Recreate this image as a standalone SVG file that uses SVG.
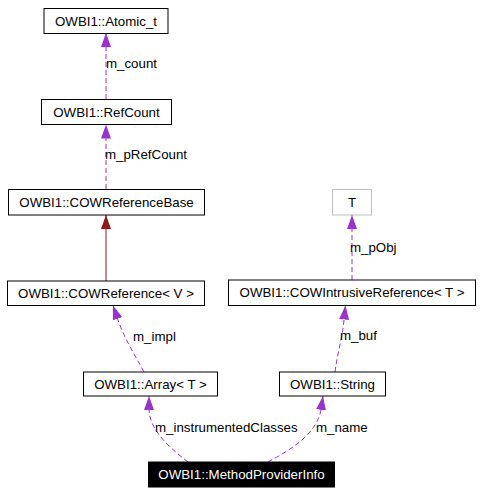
<svg xmlns="http://www.w3.org/2000/svg" width="480" height="493" viewBox="0 0 480 493">
<style>
text{font-family:"Liberation Sans",Arial,sans-serif;font-size:13.3px;fill:#000}
.n{text-anchor:middle}
rect{fill:#fff;stroke:#000;stroke-width:1}
.e{fill:none;stroke:#9a32cd;stroke-width:1;stroke-dasharray:5,3}
.i{fill:none;stroke:#8b1a1a;stroke-width:1}
</style>
<defs>
<marker id="ap" markerUnits="userSpaceOnUse" markerWidth="14" markerHeight="10" viewBox="0 0 14 10" refX="14" refY="5" orient="auto"><path d="M0,0L14,5L0,10z" fill="#9a32cd"/></marker>
<marker id="ar" markerUnits="userSpaceOnUse" markerWidth="14" markerHeight="10" viewBox="0 0 14 10" refX="14" refY="5" orient="auto"><path d="M0,0L14,5L0,10z" fill="#8b1a1a"/></marker>
</defs>
<g id="connectors">
<path class="e" d="M106,99L106,33" marker-end="url(#ap)"/>
<text x="106" y="68">m_count</text>
<path class="e" d="M106,189L106,124.5" marker-end="url(#ap)"/>
<text x="105" y="159">m_pRefCount</text>
<path class="i" d="M106,281L106,215" marker-end="url(#ar)"/>
<path class="e" d="M144,372C135,355 125,340 118,320L113,305.5" marker-end="url(#ap)"/>
<text x="133" y="341">m_impl</text>
<path class="e" d="M188,462C170,448 149,430 149,409L149,396" marker-end="url(#ap)"/>
<text x="155" y="432">m_instrumentedClasses</text>
<path class="e" d="M352,280L352,215" marker-end="url(#ap)"/>
<text x="350" y="252">m_pObj</text>
<path class="e" d="M335,372C337,355 342,340 344,320L345.5,305.5" marker-end="url(#ap)"/>
<text x="340" y="340">m_buf</text>
<path class="e" d="M268,462C290,450 316,435 321,410L323,396" marker-end="url(#ap)"/>
<text x="316" y="432">m_name</text>
</g>
<g id="atomic"><rect x="44" y="8.5" width="124" height="25"/><text class="n" x="106" y="25.5">OWBI1::Atomic_t</text></g>
<g id="refcount"><rect x="41.5" y="99.5" width="130" height="25"/><text class="n" x="106.5" y="116.5">OWBI1::RefCount</text></g>
<g id="cowrefbase"><rect x="8.5" y="189.5" width="196" height="25.5"/><text class="n" x="106.5" y="206.5">OWBI1::COWReferenceBase</text></g>
<g id="cowref"><rect x="7.5" y="281" width="197" height="24.5"/><text class="n" x="106" y="297.5">OWBI1::COWReference&lt; V &gt;</text></g>
<g id="array"><rect x="83.5" y="372" width="134" height="24"/><text class="n" x="150.5" y="388.5">OWBI1::Array&lt; T &gt;</text></g>
<g id="T"><rect x="332.5" y="189.5" width="39" height="25.5" style="stroke:#bfbfbf"/><text class="n" x="352" y="206.5">T</text></g>
<g id="cowintrusive"><rect x="228.5" y="280" width="247" height="25.5"/><text class="n" x="352" y="297">OWBI1::COWIntrusiveReference&lt; T &gt;</text></g>
<g id="string"><rect x="279.5" y="372" width="106" height="24"/><text class="n" x="332.5" y="388.5">OWBI1::String</text></g>
<g id="mpi"><rect x="148.5" y="462" width="186" height="25" style="fill:#000"/><text class="n" x="241.5" y="479" style="fill:#fff">OWBI1::MethodProviderInfo</text></g>
</svg>
